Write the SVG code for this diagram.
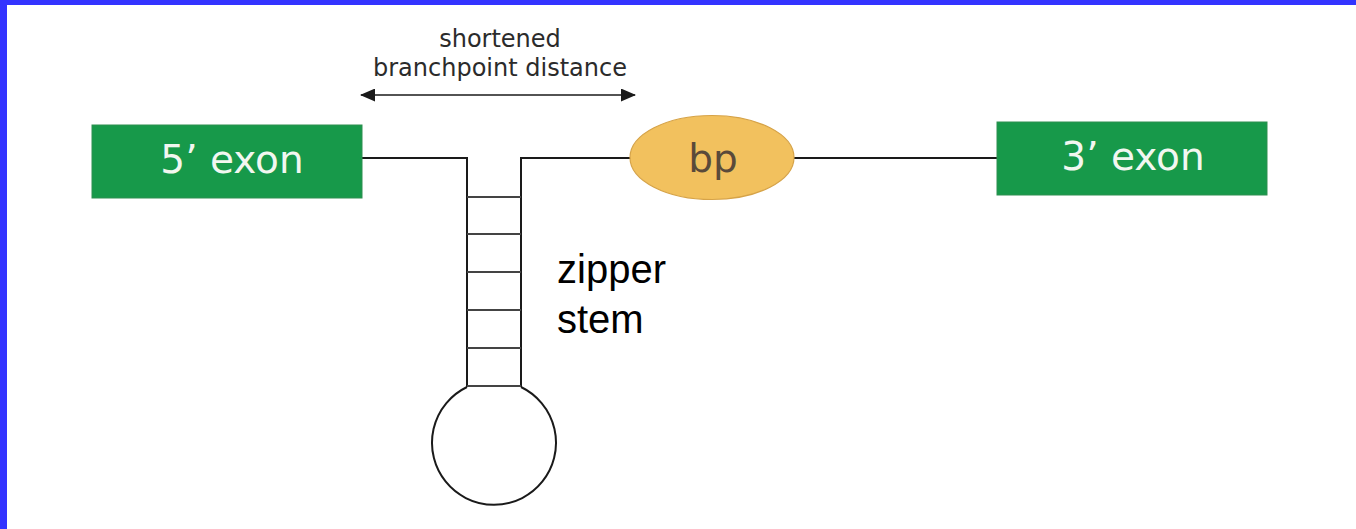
<svg xmlns="http://www.w3.org/2000/svg" width="1356" height="529" viewBox="0 0 1356 529">
<style>
.exon{fill:#17994a;stroke:#2f8f50;stroke-width:1}
.exont{font-family:"DejaVu Sans",Verdana,sans-serif;font-size:39px;fill:#f2f7f0;text-anchor:middle}
.line{stroke:#1a1a1a;stroke-width:2;fill:none}
.rung{stroke:#444;stroke-width:1.8}
.lbl{font-family:"DejaVu Sans",Verdana,sans-serif;font-size:24px;fill:#2b2b2b;text-anchor:middle}
.zt{font-family:"Liberation Sans",Arial,sans-serif;font-size:40px;fill:#000}
</style>
<defs>
<marker id="ah" viewBox="0 0 15 13" refX="14" refY="6.5" markerWidth="15" markerHeight="13" markerUnits="userSpaceOnUse" orient="auto-start-reverse">
<path d="M0,0 L15,6.5 L0,13 Z" fill="#1a1a1a"/>
</marker>
</defs>
<rect x="0" y="0" width="1356" height="529" fill="#fff"/>
<rect x="0" y="0" width="1356" height="5" fill="#3333ff"/>
<rect x="0" y="0" width="7" height="529" fill="#3333ff"/>
<g id="connectors">
<line class="line" x1="362" y1="158" x2="468" y2="158"/>
<line class="line" x1="521" y1="158" x2="631" y2="158"/>
<line class="line" x1="794" y1="158" x2="997" y2="158"/>
<line x1="361" y1="95" x2="635" y2="95" stroke="#1a1a1a" stroke-width="1.5" marker-start="url(#ah)" marker-end="url(#ah)"/>
</g>
<g id="label-distance">
<text class="lbl" x="500" y="47">shortened</text>
<text class="lbl" x="500" y="76">branchpoint distance</text>
</g>
<g id="exon5">
<rect class="exon" x="92" y="125" width="270" height="73"/>
<text class="exont" x="232" y="173">5’ exon</text>
</g>
<g id="exon3">
<rect class="exon" x="997" y="122" width="270" height="73"/>
<text class="exont" x="1133" y="170">3’ exon</text>
</g>
<g id="bp">
<ellipse cx="712" cy="157.5" rx="82" ry="42" fill="#f2c15e" stroke="#d6a348" stroke-width="1.2"/>
<text x="713" y="172" font-family="'DejaVu Sans',Verdana,sans-serif" font-size="39" fill="#5a4a3a" text-anchor="middle">bp</text>
</g>
<g id="stem">
<line class="line" x1="467" y1="157" x2="467" y2="387"/>
<line class="line" x1="521" y1="157" x2="521" y2="387"/>
<line class="rung" x1="467" y1="197" x2="521" y2="197"/>
<line class="rung" x1="467" y1="234" x2="521" y2="234"/>
<line class="rung" x1="467" y1="272" x2="521" y2="272"/>
<line class="rung" x1="467" y1="310" x2="521" y2="310"/>
<line class="rung" x1="467" y1="348" x2="521" y2="348"/>
<line class="rung" x1="467" y1="386" x2="521" y2="386"/>
<path class="line" d="M467,387 A62,62 0 1,0 521,387"/>
</g>
<g id="label-zipper">
<text class="zt" x="557" y="283">zipper</text>
<text class="zt" x="557" y="333">stem</text>
</g>
</svg>
